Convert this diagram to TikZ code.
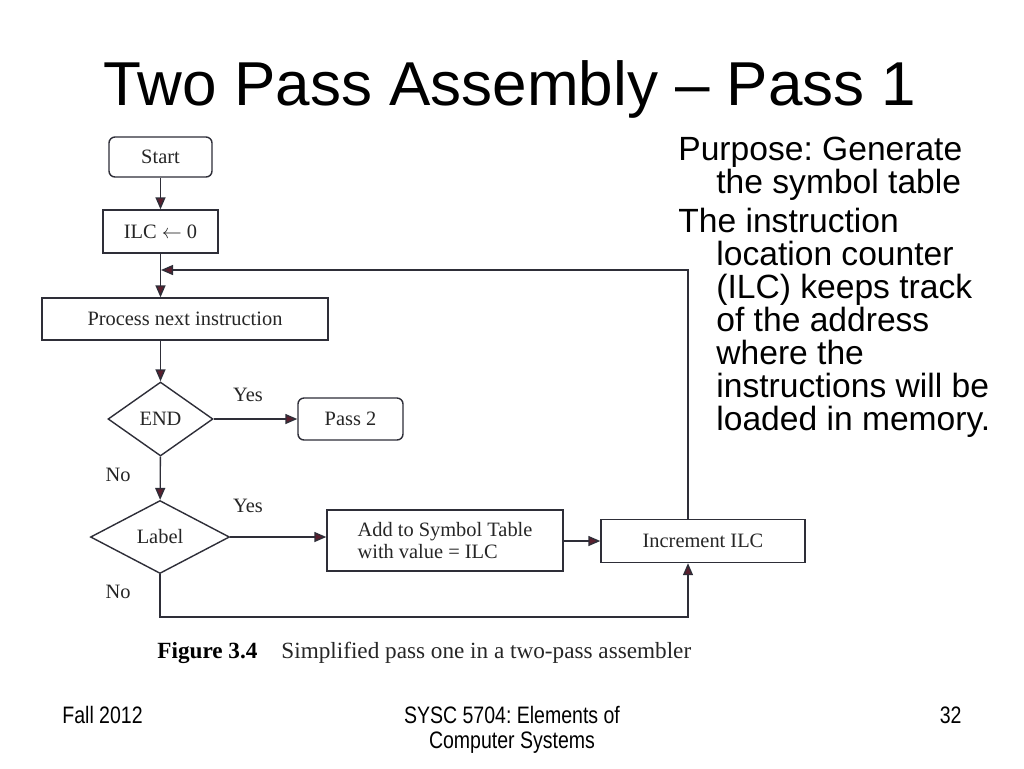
\documentclass[tikz,border=0pt]{standalone}
\usepackage{fontspec}
\setmainfont{Liberation Sans}
\newfontfamily\bookfont{Liberation Serif}
\newfontfamily\narrowfont[FakeStretch=0.82]{Liberation Sans}
\usetikzlibrary{shapes.geometric,arrows.meta}
\definecolor{tipred}{HTML}{5B1F2E}
\definecolor{inkgray}{HTML}{2E2E38}
\frenchspacing

\begin{document}
\begin{tikzpicture}[x=0.5pt, y=-0.5pt,
  flow/.style={draw=inkgray, line width=0.7pt, inner sep=0pt,
    font=\bookfont\fontsize{10.2}{11}\selectfont, text=black!85},
  box/.style={flow, rectangle},
  rbox/.style={flow, rectangle, rounded corners=3pt},
  ask/.style={flow, diamond},
  link/.style={draw=inkgray, line width=0.7pt,
    -{Triangle[length=6pt, width=5pt, fill=tipred]}},
  tag/.style={font=\bookfont\fontsize{10.2}{11}\selectfont, text=black!85},
  side/.style={anchor=base west, inner sep=0pt, font=\fontsize{16.8}{16.5}\selectfont},
  foot/.style={anchor=base, inner sep=0pt, font=\narrowfont\fontsize{11.9}{12.5}\selectfont},
  caption/.style={anchor=base west, inner sep=0pt, font=\bookfont\fontsize{11.6}{13}\selectfont}]
  \useasboundingbox[fill=white] (0,0) rectangle (1024,768);

  % title
  \node[anchor=base, font=\fontsize{31}{36}\selectfont] (title) at (510,105)
    {Two Pass Assembly -- Pass 1};

  % flowchart
  \node[rbox, minimum width=51.5pt, minimum height=20pt] (start) at (160.5,157) {Start};
  \node[box, minimum width=57.5pt, minimum height=21.5pt] (ilc) at (160.5,231.5) {ILC $\leftarrow$ 0};
  \node[box, minimum width=143pt, minimum height=21pt] (proc) at (185,319) {Process next instruction};
  \node[ask, minimum width=52.5pt, minimum height=37pt] (endq) at (160.5,419) {END};
  \node[rbox, minimum width=52.5pt, minimum height=21pt] (pass2) at (350.5,419) {Pass 2};
  \node[ask, minimum width=69.5pt, minimum height=36.5pt] (labelq) at (160,537) {Label};
  \node[box, minimum width=118pt, minimum height=30.5pt, align=left] (addsym) at (445,540.5)
    {Add to Symbol Table\\with value = ILC};
  \node[box, minimum width=102pt, minimum height=21.5pt] (incr) at (703,541) {Increment ILC};

  \coordinate (loopup) at (688,270);
  \coordinate (loopin) at (161,270);
  \coordinate (loopdown) at (688,617);

  \draw[link] (start) -- (ilc);
  \draw[link] (ilc.south) -- (ilc.south |- proc.north);
  \draw[link] (proc.south -| endq) -- (endq.north);
  \draw[link] (endq) -- (pass2);
  \draw[link] (endq) -- (labelq);
  \draw[link] (labelq.east) -- (labelq.east -| addsym.west);
  \draw[link] (addsym.east |- incr) -- (incr.west);
  \draw[link] (incr.north -| loopup) -- (loopup) -- (loopin);
  \draw[link] (labelq.south) |- (loopdown) -- (incr.south -| loopdown);

  \node[tag] (yes1) at (248,395) {Yes};
  \node[tag] (no1) at (118,475) {No};
  \node[tag] (yes2) at (248,506) {Yes};
  \node[tag] (no2) at (118,592) {No};

  % caption
  \node[caption, font=\bookfont\bfseries\fontsize{11.6}{13}\selectfont] (fig) at (157,658) {Figure 3.4};
  \node[caption, text=black!85] (cap) at (281,658) {Simplified pass one in a two-pass assembler};

  % side text
  \node[side] (purp) at (678,160) {Purpose: Generate};
  \node[side] (purp2) at (716,193) {the symbol table};
  \node[side] (ilctxt) at (678,232) {The instruction};
  \foreach \line [count=\i] in {location counter, (ILC) keeps track, of the address,
      where the, instructions will be, loaded in memory.}
    \node[side] (ilctxt\i) at (716,232+33*\i) {\line};

  % footer
  \node[foot, anchor=base west] (term) at (62,723) {Fall 2012};
  \node[foot] (course) at (512,723) {SYSC 5704: Elements of};
  \node[foot] (course2) at (512,748) {Computer Systems};
  \node[foot, anchor=base east] (page) at (962,723) {32};
\end{tikzpicture}
\end{document}
